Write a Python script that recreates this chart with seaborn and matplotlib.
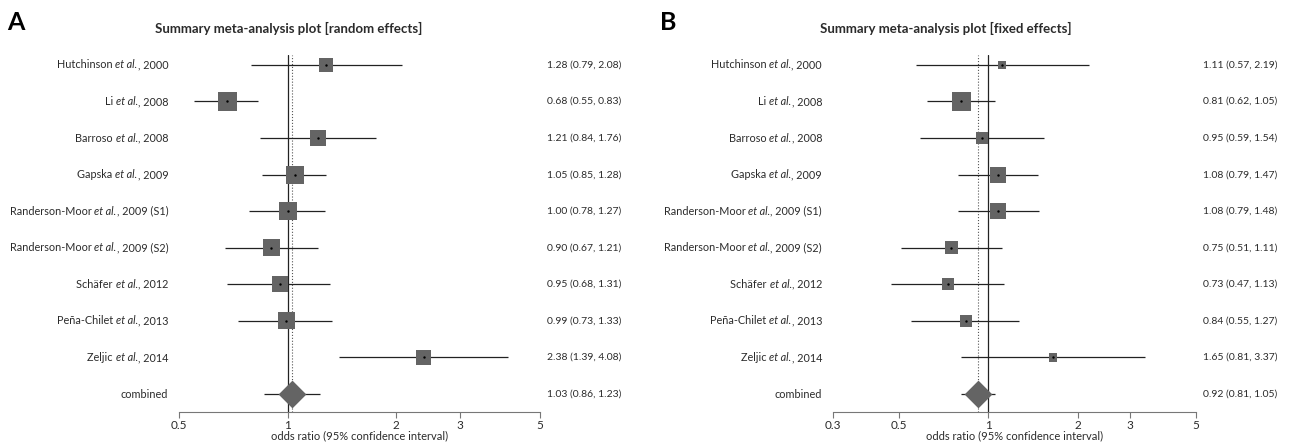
import numpy as np
import pandas as pd
import matplotlib
matplotlib.use("Agg")
import matplotlib.pyplot as plt
import matplotlib.transforms as mtransforms
import seaborn as sns

# ---- study data -------------------------------------------------------------
authors = ["Hutchinson", "Li", "Barroso", "Gapska", "Randerson-Moor",
           "Randerson-Moor", "Schäfer", "Peña-Chilet", "Zeljic"]
years = ["2000", "2008", "2008", "2009", "2009 (S1)", "2009 (S2)",
         "2012", "2013", "2014"]

# random-effects model
or_random = [1.28, 0.68, 1.21, 1.05, 1.00, 0.90, 0.95, 0.99, 2.38]
lo_random = [0.79, 0.55, 0.84, 0.85, 0.78, 0.67, 0.68, 0.73, 1.39]
hi_random = [2.08, 0.83, 1.76, 1.28, 1.27, 1.21, 1.31, 1.33, 4.08]
weight_random = [7.8, 14.3, 10.2, 12.9, 12.9, 11.5, 10.2, 11.5, 8.9]
combined_random = (1.03, 0.86, 1.23)

# fixed-effects model
or_fixed = [1.11, 0.81, 0.95, 1.08, 1.08, 0.75, 0.73, 0.84, 1.65]
lo_fixed = [0.57, 0.62, 0.59, 0.79, 0.79, 0.51, 0.47, 0.55, 0.81]
hi_fixed = [2.19, 1.05, 1.54, 1.47, 1.48, 1.11, 1.13, 1.27, 3.37]
weight_fixed = [4.0, 22.5, 9.0, 16.0, 16.0, 10.5, 9.0, 9.0, 4.0]
combined_fixed = (0.92, 0.81, 1.05)

ticks_random = [0.5, 1, 2, 3, 5]
ticks_fixed = [0.3, 0.5, 1, 2, 3, 5]

# ---- style ------------------------------------------------------------------
sns.set_theme(style="white")
plt.rcParams["font.family"] = ["Lato", "DejaVu Sans"]

BOX = "#646464"
TXT = "#2b2b2b"
LABEL_SIZE = 7.8

fig = plt.figure(figsize=(12.93, 4.46), dpi=100)
renderer = fig.canvas.get_renderer()


def draw_study_label(ax, trans, row, author, year, x=-0.03, size=LABEL_SIZE):
    """Right-aligned 'Author et al., year' with an italic 'et al.'."""
    inv = ax.transAxes.inverted()
    # placed right-to-left so each piece ends where the next one starts
    tail = ax.text(x, row, ", " + year, transform=trans, ha="right",
                   va="center", fontsize=size, color=TXT)
    x1 = inv.transform((tail.get_window_extent(renderer=renderer).x0, 0))[0]
    mid = ax.text(x1, row, "et al.", transform=trans, ha="right",
                  va="center", fontsize=size, color=TXT, style="italic")
    x2 = inv.transform((mid.get_window_extent(renderer=renderer).x0, 0))[0]
    ax.text(x2, row, author + " ", transform=trans, ha="right",
            va="center", fontsize=size, color=TXT)


def forest(ax, ors, los, his, weights, combined, ticks, xlim):
    n = len(ors)
    rows = np.arange(n)
    df = pd.DataFrame({"or": ors, "lo": los, "hi": his,
                       "weight": weights, "row": rows})

    ax.set_xscale("log")

    # reference lines: null effect and pooled estimate
    ax.axvline(1.0, color="#222222", lw=0.9, zorder=1)
    ax.axvline(combined[0], color="#555555", lw=0.8, ls=":", zorder=1)

    # confidence intervals
    ax.hlines(df["row"], df["lo"], df["hi"], color="#222222", lw=0.9, zorder=2)
    ax.hlines([n], [combined[1]], [combined[2]], color="#222222", lw=0.9, zorder=2)

    # study boxes, area proportional to weight
    wmax = max(weights)
    k = (19 * 0.72) ** 2 / wmax
    sns.scatterplot(data=df, x="or", y="row", size="weight",
                    sizes=(0, wmax * k), size_norm=(0, wmax),
                    marker="s", color=BOX, linewidth=0, legend=False,
                    ax=ax, zorder=3)
    sns.scatterplot(x=df["or"], y=df["row"], marker="o", s=3, color="black",
                    linewidth=0, legend=False, ax=ax, zorder=4)

    # pooled estimate
    sns.scatterplot(x=[combined[0]], y=[n], marker="D", s=200, color=BOX,
                    linewidth=0, legend=False, ax=ax, zorder=3)

    ax.set_xlim(*xlim)
    ax.set_ylim(n + 0.49, -0.27)
    ax.set_yticks([])
    ax.set_ylabel("")
    ax.set_xticks(ticks)
    ax.set_xticklabels([f"{t:g}" for t in ticks])
    ax.xaxis.set_minor_locator(matplotlib.ticker.NullLocator())
    ax.tick_params(axis="x", direction="out", length=4, width=0.8,
                   color="#777777", labelsize=8.5, labelcolor=TXT, pad=2,
                   bottom=True)
    ax.set_xlabel("odds ratio (95% confidence interval)", fontsize=8,
                  color=TXT, labelpad=-1)
    for side in ("top", "right", "left"):
        ax.spines[side].set_visible(False)
    ax.spines["bottom"].set_color("#777777")
    ax.spines["bottom"].set_linewidth(0.8)

    # labels on both sides
    trans = mtransforms.blended_transform_factory(ax.transAxes, ax.transData)
    for r, (a, y) in enumerate(zip(authors, years)):
        draw_study_label(ax, trans, r, a, y)
    ax.text(-0.03, n, "combined", transform=trans, ha="right", va="center",
            fontsize=LABEL_SIZE, color=TXT)

    estimates = [f"{o:.2f} ({l:.2f}, {h:.2f})" for o, l, h in zip(ors, los, his)]
    estimates.append("{:.2f} ({:.2f}, {:.2f})".format(*combined))
    for r, est in enumerate(estimates):
        ax.text(1.019, r, est, transform=trans, ha="left", va="center",
                fontsize=7.5, color=TXT)


ax_a = fig.add_axes([179 / 1293, 1 - 412 / 446, 361 / 1293, (412 - 55) / 446])
forest(ax_a, or_random, lo_random, hi_random, weight_random, combined_random,
       ticks_random, (0.5, 5))

ax_b = fig.add_axes([833 / 1293, 1 - 412 / 446, 363 / 1293, (412 - 55) / 446])
forest(ax_b, or_fixed, lo_fixed, hi_fixed, weight_fixed, combined_fixed,
       ticks_fixed, (0.3, 5))

fig.text(289 / 1293, 1 - 28 / 446, "Summary meta-analysis plot [random effects]",
         ha="center", va="center", fontsize=9.5, fontweight="bold", color=TXT)
fig.text(946 / 1293, 1 - 28 / 446, "Summary meta-analysis plot [fixed effects]",
         ha="center", va="center", fontsize=9.5, fontweight="bold", color=TXT)
fig.text(7 / 1293, 1 - 23 / 446, "A", ha="left", va="center",
         fontsize=18, fontweight="bold", color="black")
fig.text(660 / 1293, 1 - 23 / 446, "B", ha="left", va="center",
         fontsize=18, fontweight="bold", color="black")

fig.savefig("out.png", dpi=100)
